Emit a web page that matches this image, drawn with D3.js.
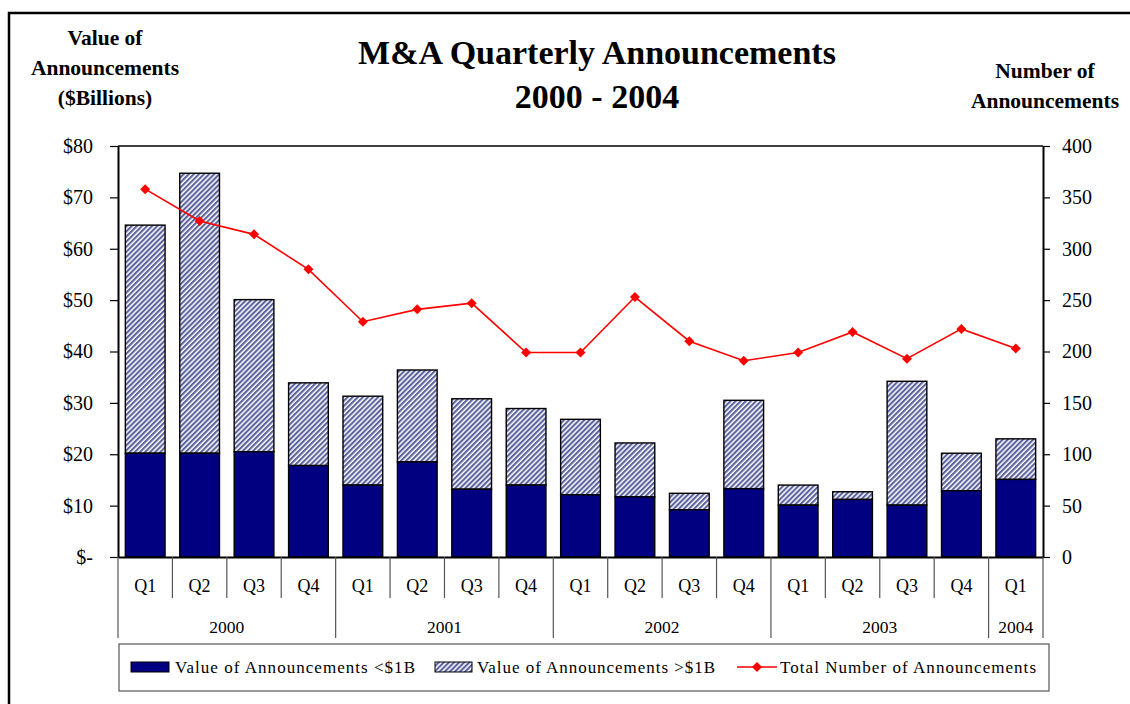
<!DOCTYPE html>
<html>
<head>
<meta charset="utf-8">
<script src="https://cdn.jsdelivr.net/npm/d3@7"></script>
<style>
  body { margin: 0; background: #fff; }
  svg text { font-family: "Liberation Serif", "Times New Roman", serif; fill: #000; }
</style>
</head>
<body>
<script>
// M&A quarterly announcements, 2000 - 2004

const quarterLabels = ['Q1', 'Q2', 'Q3', 'Q4', 'Q1', 'Q2', 'Q3', 'Q4', 'Q1', 'Q2', 'Q3', 'Q4', 'Q1', 'Q2', 'Q3', 'Q4', 'Q1'];
const yearLabels = ['2000', '2001', '2002', '2003', '2004'];
const quartersPerYear = [4, 4, 4, 4, 1];

// $ billions
const valueUnder1B = [20.2, 20.2, 20.5, 17.8, 14.0, 18.5, 13.2, 14.0, 12.1, 11.7, 9.2, 13.3, 10.1, 11.2, 10.1, 12.9, 15.1];
const valueOver1B = [44.4, 54.5, 29.6, 16.1, 17.3, 17.9, 17.6, 14.9, 14.7, 10.5, 3.2, 17.2, 3.9, 1.5, 24.1, 7.3, 7.9];
// number of deals
const totalAnnouncements = [358, 327, 314, 280, 229, 241, 247, 199, 199, 253, 210, 191, 199, 219, 193, 222, 203];

const leftTicks = [0, 10, 20, 30, 40, 50, 60, 70, 80];
const rightTicks = [0, 50, 100, 150, 200, 250, 300, 350, 400];

const W = 1130, H = 704;
const plot = { left: 118, right: 1043, top: 146, bottom: 557 };

const svg = d3.select('body').append('svg')
  .attr('width', W)
  .attr('height', H);

// hatch pattern for the >$1B series
const defs = svg.append('defs');
const pat = defs.append('pattern')
  .attr('id', 'hatch')
  .attr('patternUnits', 'userSpaceOnUse')
  .attr('width', 3.6)
  .attr('height', 3.6)
  .attr('patternTransform', 'rotate(45)');
pat.append('rect').attr('width', 3.6).attr('height', 3.6).attr('fill', '#ffffff');
pat.append('rect').attr('width', 2.1).attr('height', 3.6).attr('fill', '#5c639c');

// outer frame
svg.append('rect')
  .attr('x', 9).attr('y', 13)
  .attr('width', W + 20).attr('height', H + 20)
  .attr('fill', 'none')
  .attr('stroke', '#000')
  .attr('stroke-width', 2.5);

// scales
const x = d3.scaleBand()
  .domain(d3.range(quarterLabels.length))
  .range([plot.left, plot.right])
  .paddingInner(0.27)
  .paddingOuter(0.135);
const yLeft = d3.scaleLinear().domain([0, 80]).range([plot.bottom, plot.top]);
const yRight = d3.scaleLinear().domain([0, 400]).range([plot.bottom, plot.top]);

// plot area border (top edge)
svg.append('line')
  .attr('x1', plot.left).attr('x2', plot.right)
  .attr('y1', plot.top).attr('y2', plot.top)
  .attr('stroke', '#000').attr('stroke-width', 1.3);

// stacked bars
const stacked = quarterLabels.map((q, i) => ({ i, low: valueUnder1B[i], high: valueOver1B[i] }));

svg.append('g').selectAll('rect')
  .data(stacked)
  .enter().append('rect')
  .attr('x', d => x(d.i))
  .attr('width', x.bandwidth())
  .attr('y', d => yLeft(d.low + d.high))
  .attr('height', d => yLeft(d.low) - yLeft(d.low + d.high))
  .attr('fill', 'url(#hatch)')
  .attr('stroke', '#000')
  .attr('stroke-width', 1.4);

svg.append('g').selectAll('rect')
  .data(stacked)
  .enter().append('rect')
  .attr('x', d => x(d.i))
  .attr('width', x.bandwidth())
  .attr('y', d => yLeft(d.low))
  .attr('height', d => yLeft(0) - yLeft(d.low))
  .attr('fill', '#000080')
  .attr('stroke', '#000')
  .attr('stroke-width', 1.4);

// line for number of announcements
const cx = i => x(i) + x.bandwidth() / 2;
const line = d3.line()
  .x((d, i) => cx(i))
  .y(d => yRight(d));

svg.append('path')
  .datum(totalAnnouncements)
  .attr('d', line)
  .attr('fill', 'none')
  .attr('stroke', '#ff0000')
  .attr('stroke-width', 1.6);

const diamond = d3.symbol().type(d3.symbolSquare).size(50);
svg.append('g').selectAll('path')
  .data(totalAnnouncements)
  .enter().append('path')
  .attr('d', diamond)
  .attr('transform', (d, i) => `translate(${cx(i)},${yRight(d)}) rotate(45)`)
  .attr('fill', '#ff0000');

// left axis
const axisL = svg.append('g')
  .attr('transform', `translate(${plot.left},0)`)
  .call(d3.axisLeft(yLeft)
    .tickValues(leftTicks)
    .tickSize(8)
    .tickSizeOuter(0)
    .tickPadding(17)
    .tickFormat(d => d === 0 ? '$-' : '$' + d));
axisL.select('.domain').attr('stroke', '#000').attr('stroke-width', 2);
axisL.selectAll('.tick line').attr('stroke', '#000').attr('stroke-width', 1.2);
axisL.selectAll('text').attr('font-size', 20).attr('font-family', '"Liberation Serif", serif');

// right axis
const axisR = svg.append('g')
  .attr('transform', `translate(${plot.right},0)`)
  .call(d3.axisRight(yRight)
    .tickValues(rightTicks)
    .tickSize(7)
    .tickSizeOuter(0)
    .tickPadding(12)
    .tickFormat(d3.format('d')));
axisR.select('.domain').attr('stroke', '#000').attr('stroke-width', 2);
axisR.selectAll('.tick line').attr('stroke', '#000').attr('stroke-width', 1.2);
axisR.selectAll('text').attr('font-size', 20).attr('font-family', '"Liberation Serif", serif');

// bottom axis: quarter labels
const axisB = svg.append('g')
  .attr('transform', `translate(0,${plot.bottom})`)
  .call(d3.axisBottom(x)
    .tickSize(0)
    .tickPadding(22)
    .tickFormat(i => quarterLabels[i]));
axisB.select('.domain').attr('stroke', '#000').attr('stroke-width', 2);
axisB.selectAll('text').attr('font-size', 18).attr('font-family', '"Liberation Serif", serif');

// separators between quarters and years
const step = x.step();
const edge = i => plot.left + i * step;
const yearStarts = [0];
quartersPerYear.forEach((n, k) => yearStarts.push(yearStarts[k] + n));

svg.append('g').selectAll('line')
  .data(d3.range(quarterLabels.length + 1).filter(i => !yearStarts.includes(i)))
  .enter().append('line')
  .attr('x1', edge).attr('x2', edge)
  .attr('y1', plot.bottom).attr('y2', plot.bottom + 41)
  .attr('stroke', '#555').attr('stroke-width', 1.2);

svg.append('g').selectAll('line')
  .data(yearStarts)
  .enter().append('line')
  .attr('x1', edge).attr('x2', edge)
  .attr('y1', plot.bottom).attr('y2', plot.bottom + 81)
  .attr('stroke', '#555').attr('stroke-width', 1.2);

svg.append('g').selectAll('text')
  .data(yearLabels)
  .enter().append('text')
  .attr('x', (d, k) => (edge(yearStarts[k]) + edge(yearStarts[k + 1])) / 2)
  .attr('y', plot.bottom + 76)
  .attr('text-anchor', 'middle')
  .attr('font-size', 17.5)
  .text(d => d);

// titles
const title = svg.append('text')
  .attr('x', 597)
  .attr('text-anchor', 'middle')
  .attr('font-size', 34)
  .attr('font-weight', 'bold');
title.append('tspan').attr('x', 597).attr('y', 64).text('M&A Quarterly Announcements');
title.append('tspan').attr('x', 597).attr('y', 108).text('2000 - 2004');

const leftLabel = ['Value of', 'Announcements', '($Billions)'];
svg.append('g').selectAll('text')
  .data(leftLabel)
  .enter().append('text')
  .attr('x', 105)
  .attr('y', (d, i) => 45 + i * 30)
  .attr('text-anchor', 'middle')
  .attr('font-size', 21.5)
  .attr('font-weight', 'bold')
  .text(d => d);

const rightLabel = ['Number of', 'Announcements'];
svg.append('g').selectAll('text')
  .data(rightLabel)
  .enter().append('text')
  .attr('x', 1045)
  .attr('y', (d, i) => 78 + i * 30)
  .attr('text-anchor', 'middle')
  .attr('font-size', 21.5)
  .attr('font-weight', 'bold')
  .text(d => d);

// legend
const legendNames = ['Value of Announcements <$1B', 'Value of Announcements >$1B', 'Total Number of Announcements'];
const lg = svg.append('g');
lg.append('rect')
  .attr('x', 119).attr('y', 644)
  .attr('width', 930).attr('height', 47)
  .attr('fill', '#fff')
  .attr('stroke', '#555')
  .attr('stroke-width', 1.2);

const ly = 667;
lg.append('rect').attr('x', 131).attr('y', ly - 5).attr('width', 38).attr('height', 10)
  .attr('fill', '#000080').attr('stroke', '#000').attr('stroke-width', 1);
lg.append('rect').attr('x', 435).attr('y', ly - 5).attr('width', 37).attr('height', 10)
  .attr('fill', 'url(#hatch)').attr('stroke', '#000').attr('stroke-width', 1);
lg.append('line').attr('x1', 737).attr('x2', 777).attr('y1', ly).attr('y2', ly)
  .attr('stroke', '#ff0000').attr('stroke-width', 1.6);
lg.append('path').attr('d', diamond).attr('transform', `translate(757,${ly}) rotate(45)`)
  .attr('fill', '#ff0000');

const legendX = [175, 477, 780];
const legendLen = [240, 238, 256];
lg.selectAll('text.item')
  .data(legendNames)
  .enter().append('text')
  .attr('class', 'item')
  .attr('x', (d, i) => legendX[i])
  .attr('y', ly + 6)
  .attr('font-size', 17)
  .attr('textLength', (d, i) => legendLen[i])
  .attr('lengthAdjust', 'spacing')
  .text(d => d);
</script>
</body>
</html>
